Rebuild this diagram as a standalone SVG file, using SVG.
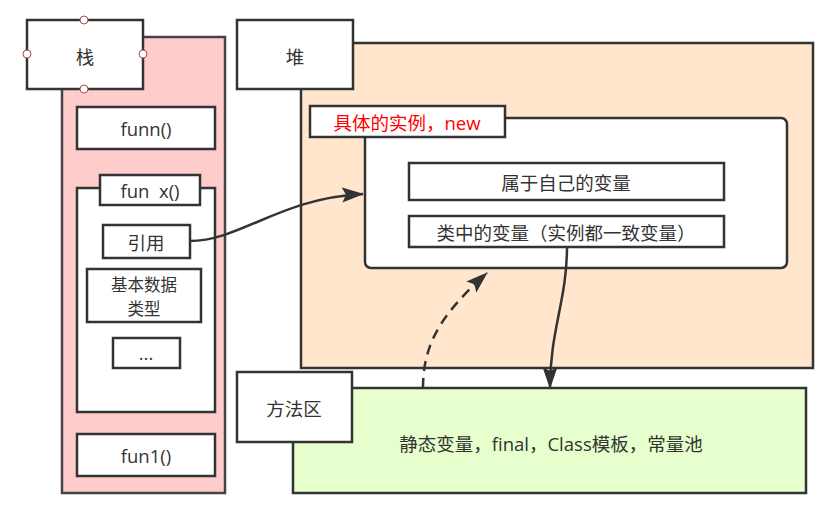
<svg xmlns="http://www.w3.org/2000/svg" width="838" height="506" viewBox="0 0 838 506">
<defs>
<style>
.b{stroke:#333;stroke-width:2.5;fill:#fff}
.t{font-family:"Open Sans","Noto Sans CJK SC",sans-serif;font-size:18.5px;fill:#333;text-anchor:middle;dominant-baseline:central}
.c{fill:none;stroke:#333;stroke-width:2.5}
.h{fill:#fff;stroke:#a05050;stroke-width:1}
</style>
<marker id="ar" viewBox="0 0 22 16" refX="21" refY="8" markerWidth="22" markerHeight="16" markerUnits="userSpaceOnUse" orient="auto">
<path d="M0 0.5 L22 8 L0 15.5 L4 8 Z" fill="#333"/>
</marker>
</defs>
<rect width="838" height="506" fill="#fff"/>
<g id="stack">
<rect x="62" y="37" width="163" height="456" fill="#ffcccc" stroke="#444" stroke-width="2.5"/>
</g>
<g id="stack-label">
<rect class="b" x="27" y="20" width="116" height="69"/>
<text class="t" x="85" y="56">栈</text>
<circle class="h" cx="84" cy="20" r="4"/>
<circle class="h" cx="27" cy="54" r="4"/>
<circle class="h" cx="143" cy="54" r="4"/>
<circle class="h" cx="84" cy="89" r="4"/>
</g>
<g id="funn">
<rect class="b" x="77" y="107" width="138" height="42"/>
<text class="t" x="146" y="128">funn()</text>
</g>
<g id="funx">
<rect class="b" x="77" y="188" width="138" height="224"/>
<rect class="b" x="100" y="175" width="100" height="30"/>
<text class="t" x="150" y="190">fun&#160;&#160;x()</text>
</g>
<g id="ref">
<rect class="b" x="103" y="225" width="87" height="33"/>
<text class="t" x="146" y="242">引用</text>
</g>
<g id="basic">
<rect class="b" x="87" y="269" width="114" height="53"/>
<text class="t" x="144" y="295" style="font-size:16.5px"><tspan x="144" dy="-11.5">基本数据</tspan><tspan x="144" dy="24">类型</tspan></text>
</g>
<g id="dots">
<rect class="b" x="113" y="338" width="67" height="30"/>
<text class="t" x="146" y="352">...</text>
</g>
<g id="fun1">
<rect class="b" x="77" y="434" width="138" height="42"/>
<text class="t" x="146" y="455">fun1()</text>
</g>
<g id="heap">
<rect x="301" y="43" width="512" height="325" fill="#ffe6cc" stroke="#333" stroke-width="2.5"/>
</g>
<g id="heap-label">
<rect class="b" x="237" y="20" width="116" height="69"/>
<text class="t" x="295" y="56">堆</text>
</g>
<g id="instance">
<rect class="b" x="365" y="118" width="422" height="150" rx="6"/>
<rect class="b" x="310" y="106" width="195" height="31" stroke="#111" stroke-width="3"/>
<text class="t" x="407" y="122" style="fill:#ff0000">具体的实例，new</text>
</g>
<g id="own">
<rect class="b" x="409" y="163" width="315" height="37"/>
<text class="t" x="566" y="182">属于自己的变量</text>
</g>
<g id="classvar">
<rect class="b" x="409" y="216" width="315" height="31"/>
<text class="t" x="566" y="232">类中的变量（实例都一致变量）</text>
</g>
<g id="method">
<rect x="293" y="388" width="513" height="105" fill="#e6ffcc" stroke="#333" stroke-width="2.5"/>
<text class="t" x="551" y="443">静态变量，final，Class模板，常量池</text>
</g>
<g id="method-label">
<rect class="b" x="237" y="372" width="115" height="70"/>
<text class="t" x="294" y="408">方法区</text>
</g>
<g id="connectors">
<path class="c" d="M190 241 C240 241 280 198 363 194" marker-end="url(#ar)"/>
<path class="c" d="M567 247 C567 300 550 330 550 388" marker-end="url(#ar)"/>
<path class="c" d="M423 388 C423 345 440 315 487 273" stroke-dasharray="10 7" marker-end="url(#ar)"/>
</g>
</svg>
